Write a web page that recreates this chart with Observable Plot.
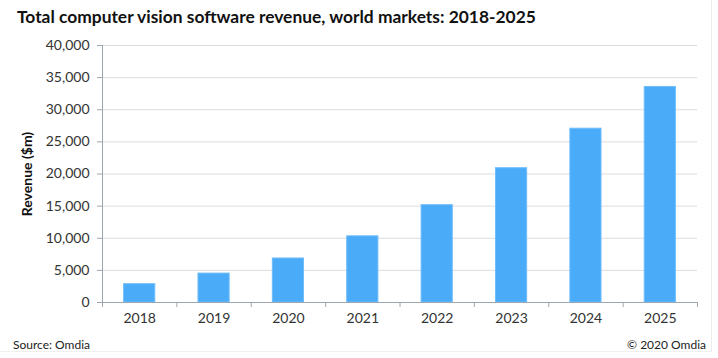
<!DOCTYPE html>
<html>
<head>
<meta charset="utf-8">
<script src="https://cdn.jsdelivr.net/npm/d3@7"></script>
<script src="https://cdn.jsdelivr.net/npm/@observablehq/plot@0.6"></script>
<style>
  html, body { margin: 0; padding: 0; background: #fff; }
  #wrap { position: relative; width: 718px; height: 358px; overflow: hidden; font-family: Lato, "Open Sans", sans-serif; }
  #frame { position: absolute; left: 0; top: 0; width: 712px; height: 352px; border-right: 1px solid #ececec; border-bottom: 1px solid #f0f0f0; box-sizing: border-box; }
  #title { position: absolute; left: 17px; top: 6px; font-size: 17.4px; font-weight: bold; color: #111; white-space: nowrap; }
  #source { position: absolute; left: 13px; top: 337px; font-size: 12px; color: #222; }
  #copy { position: absolute; right: 12px; top: 337px; font-size: 12px; color: #222; }
  #chart { position: absolute; left: 0; top: 0; }
</style>
</head>
<body>
<div id="wrap">
  <div id="frame"></div>
  <div id="chart"></div>
  <div id="title">Total computer vision software revenue, world markets: 2018-2025</div>
  <div id="source">Source: Omdia</div>
  <div id="copy">© 2020 Omdia</div>
</div>
<script>
const years = [2018, 2019, 2020, 2021, 2022, 2023, 2024, 2025];
const revenue = [2850, 4500, 6850, 10300, 15150, 20900, 27050, 33550];
const yTicks = [0, 5000, 10000, 15000, 20000, 25000, 30000, 35000, 40000];

const data = years.map((y, i) => ({year: y, value: revenue[i]}));
const bounds = years.map(y => y - 0.5).concat([years[years.length - 1] + 0.5]);

const axisColor = "#9ea6b0";
const chart = Plot.plot({
  width: 718,
  height: 358,
  marginLeft: 102,
  marginRight: 21,
  marginTop: 45,
  marginBottom: 56,
  style: {fontFamily: "Lato, 'Open Sans', sans-serif", fontSize: "14px", color: "#333", background: "transparent"},
  x: {type: "linear", domain: [bounds[0], bounds[bounds.length - 1]], axis: null},
  y: {domain: [0, 40000], axis: null},
  marks: [
    Plot.gridY(yTicks, {stroke: "#dcdcdc", strokeOpacity: 1, strokeWidth: 1}),
    Plot.rectY(data, {x1: d => d.year - 0.5, x2: d => d.year + 0.5, y: "value", fill: "#4aabf8", stroke: "#6fbdf9", strokeWidth: 1, insetLeft: 21.6, insetRight: 21.6}),
    Plot.axisY({ticks: yTicks, tickFormat: d3.format(","), tickSize: 5, tickPadding: 8, stroke: axisColor, fill: "#333", fontSize: 14, label: null}),
    Plot.ruleX([bounds[0]], {stroke: axisColor}),
    Plot.ruleY([0], {stroke: axisColor}),
    Plot.axisX({ticks: bounds, tickFormat: () => "", tickSize: 5, stroke: axisColor, label: null}),
    Plot.axisX({ticks: years, tickFormat: d => String(d), tickSize: 0, tickPadding: 11, fill: "#333", fontSize: 14, label: null}),
    Plot.axisY({ticks: [], label: "Revenue ($m)", labelAnchor: "center", labelArrow: false, labelOffset: 80, fontWeight: "bold", fontSize: 14, fill: "#111"})
  ]
});
document.getElementById("chart").appendChild(chart);
</script>
</body>
</html>
